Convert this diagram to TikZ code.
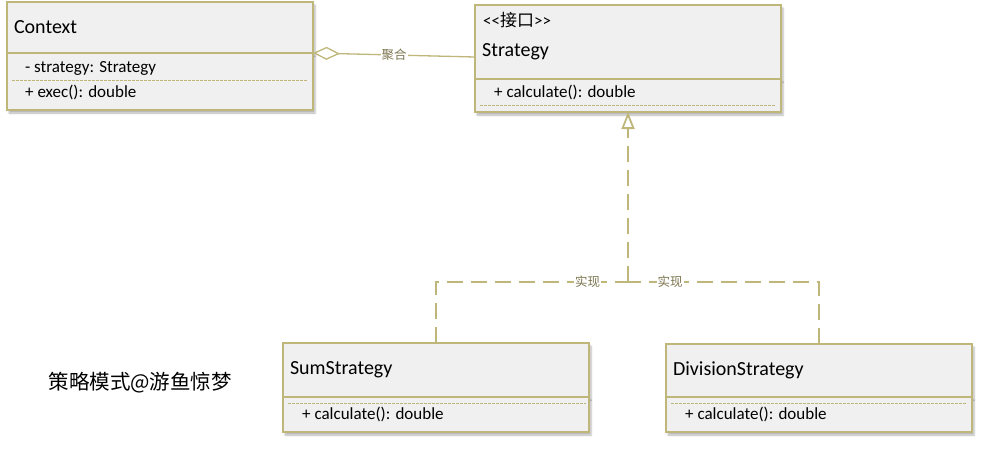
\documentclass[tikz,border=0pt]{standalone}
\usepackage{fontspec}
\setmainfont{Carlito}
\newfontfamily\cjk{Noto Sans CJK SC}
\usetikzlibrary{positioning,arrows.meta,shadows.blur}
\definecolor{umlline}{RGB}{191,182,122}
\definecolor{umlfill}{RGB}{240,240,240}
\definecolor{umltext}{RGB}{125,118,80}

\begin{document}
\begin{tikzpicture}[x=1pt, y=-1pt,
    box/.style={draw=umlline, fill=umlfill, line width=1.6pt, outer sep=0pt, minimum width=306pt, anchor=north west,
      blur shadow={shadow xshift=2pt, shadow yshift=-3pt, shadow blur steps=4, shadow opacity=30}},
    head/.style={box, text width=292pt, inner xsep=7pt, align=left, font=\fontsize{20}{22}\selectfont},
    member/.style={anchor=west, inner sep=0pt, font=\fontsize{17}{19}\selectfont},
    sep/.style={draw=umlline, line width=1pt, dash pattern=on 2.5pt off 1.5pt},
    lbl/.style={fill=white, inner sep=1pt, text=umltext, font=\cjk\fontsize{12.5}{14}\selectfont},
    agg/.style={draw=umlline, line width=1.3pt, arrows={Diamond[open, fill=white, length=27pt, width=13pt]-}},
    impl/.style={draw=umlline, line width=1.8pt, dash pattern=on 16pt off 8pt}]
    \useasboundingbox (0,0) rectangle (985,448);

    % Context
    \node[head, minimum height=51pt] (ctxhead) at (7,2) {Context};
    \node[box, minimum height=57pt, below=0pt of ctxhead] (ctxbody) {};
    \node[member] (ctxattr) at (25,68) {- strategy: Strategy};
    \draw[sep] (12,80) -- (308,80);
    \node[member] (ctxop) at (25,92) {+ exec(): double};

    % Strategy
    \node[head, minimum height=74pt] (strathead) at (475,5) {};
    \node[member] (stereo) at (483,20) {<{}<{\cjk 接口}>{}>};
    \node[member, font=\fontsize{20}{22}\selectfont] (stratname) at (482,52) {Strategy};
    \node[box, minimum height=33pt, below=0pt of strathead] (stratbody) {};
    \node[member] (stratop) at (494,92) {+ calculate(): double};
    \draw[sep] (480,105) -- (776,105);

    % SumStrategy
    \node[head, minimum height=54pt] (sumhead) at (283,343) {SumStrategy};
    \node[box, minimum height=35pt, below=0pt of sumhead] (sumbody) {};
    \draw[sep] (288,403) -- (586,403);
    \node[member] (sumop) at (302,414) {+ calculate(): double};

    % DivisionStrategy
    \node[head, minimum height=53pt] (divhead) at (666,344) {DivisionStrategy};
    \node[box, minimum height=35pt, below=0pt of divhead] (divbody) {};
    \draw[sep] (671,403) -- (967,403);
    \node[member] (divop) at (685,414) {+ calculate(): double};

    % connectors
    \coordinate (aggend) at (strathead.west |- 0,57);
    \draw[agg] (ctxhead.south east) -- node[lbl] {聚合} (aggend);

    \coordinate (joint) at (628,282);
    \draw[impl] (sumhead.north) |- node[lbl, pos=0.895] {实现} (joint);
    \draw[impl] (divhead.north) |- node[lbl, pos=0.89] {实现} (joint);
    \draw[impl, -{Triangle[open, fill=white, length=17pt, width=13pt]}] (joint) -- (stratbody.south);

    \node[anchor=west, font=\cjk\fontsize{20.5}{22}\selectfont] (caption) at (45,383) {策略模式@游鱼惊梦};
\end{tikzpicture}
\end{document}
